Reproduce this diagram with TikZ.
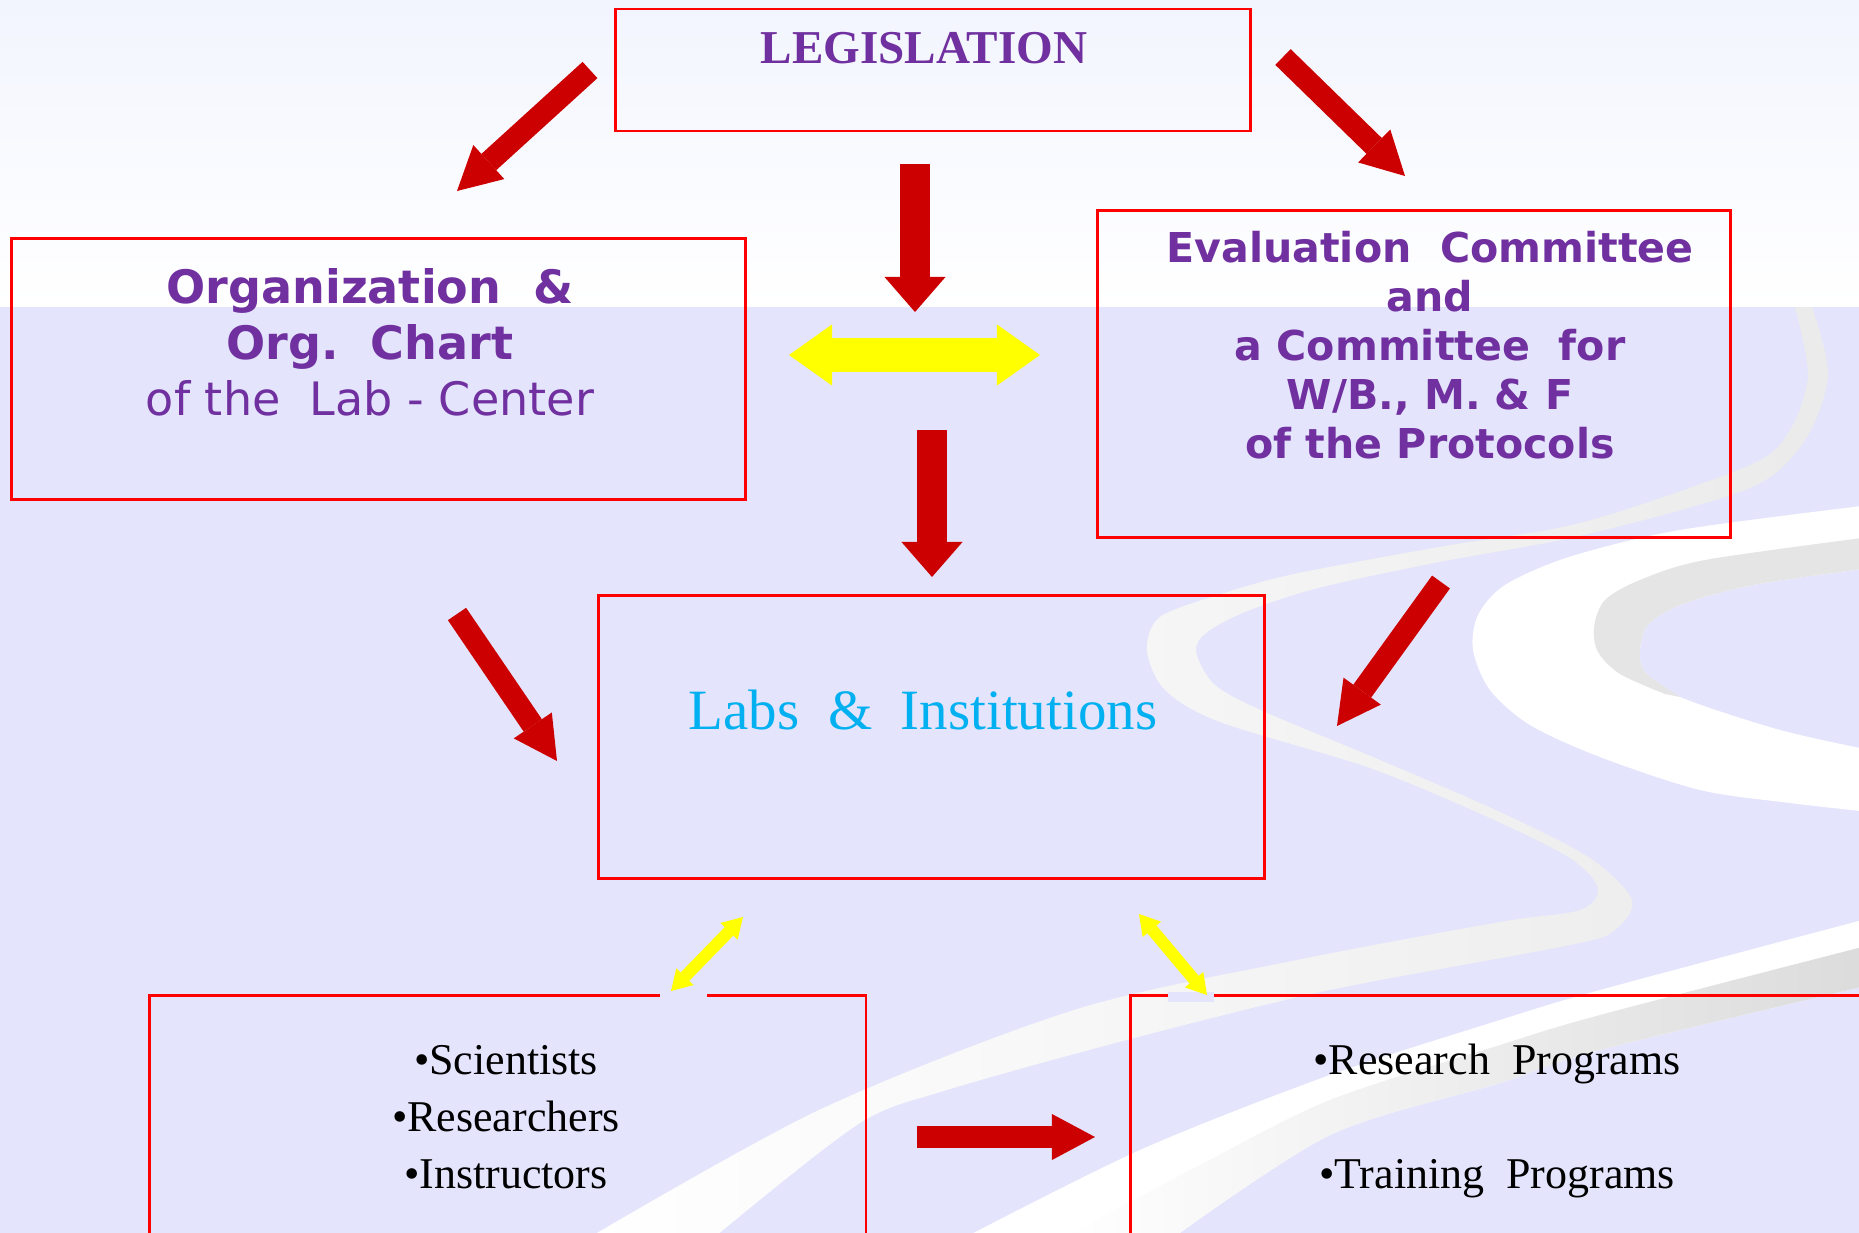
\documentclass[tikz,border=0pt]{standalone}
\usepackage{fontspec}
\setmainfont{Liberation Serif}
\newfontfamily\verd{DejaVu Sans}
\usepackage{xcolor}
\usepackage{tikz}
\usetikzlibrary{arrows.meta}
\definecolor{legpurple}{HTML}{7030A0}
\definecolor{boxred}{HTML}{FF0000}
\definecolor{arrowred}{HTML}{CC0000}
\definecolor{arrowyellow}{HTML}{FFFF00}
\definecolor{labcyan}{HTML}{00B0F0}
\definecolor{lavender}{HTML}{E4E4FC}
\definecolor{paleblue}{HTML}{F2F5FE}

\begin{document}
\begin{tikzpicture}[x=0.01cm,y=-0.01cm,
box/.style={draw=boxred,line width=0.8pt},
vbar/.style={arrowred,line width=0.29cm,-{Triangle[width=0.61cm,length=0.35cm,line width=0pt]}},
slant/.style={arrowred,line width=0.22cm,-{Triangle[width=0.46cm,length=0.43cm,line width=0pt]}},
wideyellow/.style={arrowyellow,line width=0.33cm,{Triangle[width=0.61cm,length=0.43cm,line width=0pt]}-{Triangle[width=0.61cm,length=0.43cm,line width=0pt]}},
thinyellow/.style={arrowyellow,line width=0.12cm,{Triangle[width=0.24cm,length=0.2cm,line width=0pt]}-{Triangle[width=0.24cm,length=0.2cm,line width=0pt]}}]
\useasboundingbox(0,0)rectangle(1859,1233);
\clip(0,0)rectangle(1859,1233);
\shade[top color=paleblue,bottom color=white](0,0)rectangle(1859,307);
\fill[lavender](0,307)rectangle(1859,1233);
\shade[left color=white,right color=gray!16]plot[smooth]coordinates{(1812,307)(1828,375)(1805,440)(1750,488)(1584,535)(1439,562)(1318,588)(1245,612)(1206,633)(1196,652)(1215,685)(1265,712)(1380,760)(1500,812)(1590,858)(1632,900)(1615,930)(1570,945)(1330,990)(1138,1037)(947,1090)(857,1125)(711,1240)}
 --plot[smooth]coordinates{(585,1240)(819,1110)(1074,1010)(1297,960)(1500,922)(1580,910)(1598,888)(1570,858)(1490,818)(1370,768)(1220,722)(1165,690)(1147,650)(1160,617)(1221,594)(1294,574)(1439,547)(1584,522)(1750,465)(1790,430)(1808,375)(1795,307)}--cycle;
\fill[white]plot[smooth]coordinates{(1870,505)(1680,530)(1569,557)(1505,585)(1478,615)(1473,650)(1490,690)(1530,725)(1600,757)(1700,790)(1790,803)(1870,812)}
 --plot[smooth]coordinates{(1870,750)(1780,730)(1680,697)(1645,672)(1640,650)(1648,625)(1680,605)(1753,585)(1870,568)}--cycle;
\fill[gray!20]plot[smooth]coordinates{(1870,537)(1705,560)(1640,580)(1605,600)(1594,627)(1598,652)(1620,674)(1665,694)}
 --plot[smooth]coordinates{(1680,697)(1645,672)(1640,650)(1648,625)(1680,605)(1753,585)(1870,568)}--cycle;
\fill[white]plot[smooth]coordinates{(1870,918)(1600,990)(1500,1020)(1330,1075)(1140,1150)(960,1240)}
 --plot[smooth]coordinates{(1170,1240)(1330,1135)(1500,1083)(1600,1050)(1870,985)}--cycle;
\shade[left color=white,right color=gray!28]plot[smooth]coordinates{(1870,945)(1600,1015)(1500,1045)(1330,1100)(1200,1165)(1060,1240)}
 --plot[smooth]coordinates{(1170,1240)(1330,1135)(1500,1083)(1600,1050)(1870,985)}--cycle;
\node[box,minimum width=6.345cm,minimum height=1.22cm](L)at(932.75,70){};
\node[box,minimum width=7.33cm,minimum height=2.61cm](O)at(378.5,369){};
\node[box,minimum width=6.32cm,minimum height=3.275cm](E)at(1414,374){};
\node[box,minimum width=6.65cm,minimum height=2.83cm](B)at(931.5,737.3){};
\node[box,minimum width=7.164cm,minimum height=3.05cm](S)at(507.6,1148){};
\node[box,minimum width=7.69cm,minimum height=3.05cm](P)at(1515.5,1148){};
\fill[lavender](660,992)rectangle(707,1000);
\fill[lavender](1168,992)rectangle(1214,1002);
\node[anchor=base,legpurple,font=\bfseries\fontsize{13.4}{16}\selectfont](Lt)at(924,63){LEGISLATION};
\node[anchor=base,align=center,legpurple,font=\verd\fontsize{13.1}{15.8}\selectfont](Ot)at(370,415){\textbf{Organization~~\&}\\\textbf{Org.~~Chart}\\of the~~Lab - Center};
\node[anchor=base,align=center,legpurple,font=\verd\bfseries\fontsize{11.7}{13.9}\selectfont](Et)at(1430,458){Evaluation~~Committee\\and\\a Committee~~for\\W/B., M. \& F\\of the Protocols};
\node[anchor=base,labcyan,font=\fontsize{16.2}{19}\selectfont](Bt)at(923,729){Labs~~\&~~Institutions};
\node[anchor=base,align=center,font=\fontsize{12.5}{16.1}\selectfont](St)at(506,1188){•Scientists\\•Researchers\\•Instructors};
\node[anchor=base,align=center,font=\fontsize{12.5}{16.1}\selectfont](Pt)at(1497,1188){•Research~~Programs\\[16.1pt]•Training~~Programs};
\coordinate(LOa)at(590,70);\coordinate(LOb)at(457,191);
\coordinate(LEa)at(1283,57);\coordinate(LEb)at(1405,176);
\coordinate(LBa)at(915,164);\coordinate(LBb)at(915,312);
\coordinate(OEa)at(789,355);\coordinate(OEb)at(1040,355);
\coordinate(XBa)at(932,430);\coordinate(XBb)at(932,577);
\coordinate(OBa)at(457,614);\coordinate(OBb)at(557,761);
\coordinate(EBa)at(1441,582);\coordinate(EBb)at(1337,726);
\coordinate(BSa)at(743,917);\coordinate(BSb)at(671,991);
\coordinate(BPa)at(1139,914);\coordinate(BPb)at(1207,995);
\coordinate(SPa)at(917,1137);\coordinate(SPb)at(1095,1137);
\foreach \p/\q in {LOa/LOb,LEa/LEb,OBa/OBb,EBa/EBb,SPa/SPb}\draw[slant](\p)--(\q);
\foreach \p/\q in {LBa/LBb,XBa/XBb}\draw[vbar](\p)--(\q);
\draw[wideyellow](OEa)--(OEb);
\foreach \p/\q in {BSa/BSb,BPa/BPb}\draw[thinyellow](\p)--(\q);
\end{tikzpicture}
\end{document}
